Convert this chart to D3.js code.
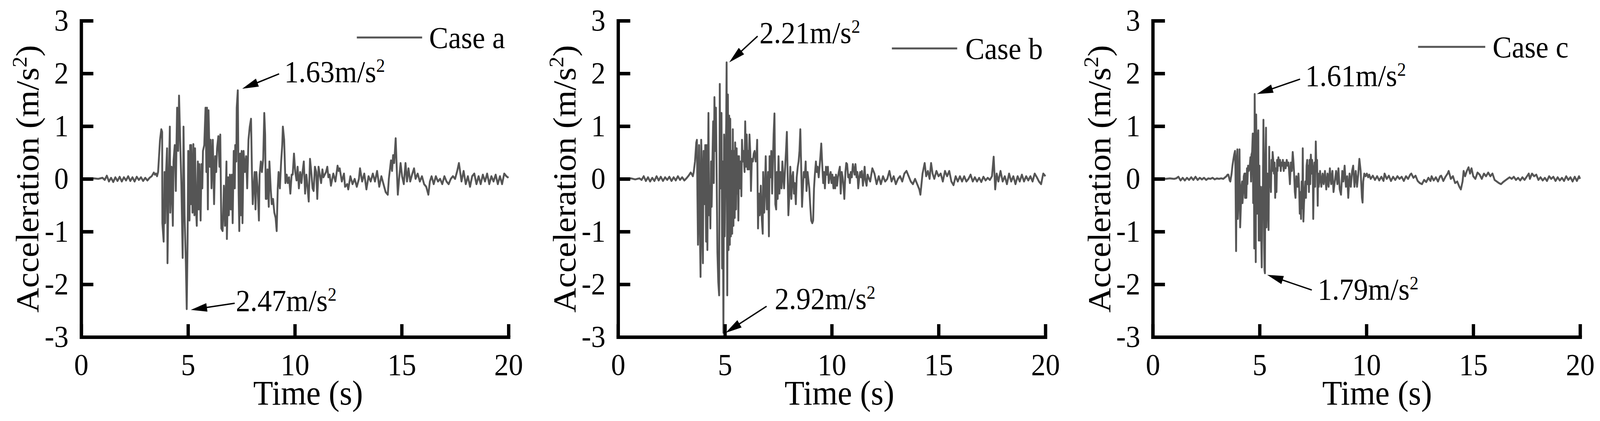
<!DOCTYPE html>
<html><head><meta charset="utf-8">
<script src="https://cdn.jsdelivr.net/npm/d3@7"></script>
<style>
html,body{margin:0;padding:0;background:#fff;overflow:hidden;width:100%;height:100%}
#chart{display:block;width:100vw;height:100vh}
svg text{font-family:"Liberation Serif","Times New Roman",serif;fill:#000}
</style>
</head><body>
<svg id="chart" viewBox="0 0 4336 1078" preserveAspectRatio="none"></svg>
<script>
// ---------------- data ----------------
const xTicks = [0, 5, 10, 15, 20];
const yTicks = [-3, -2, -1, 0, 1, 2, 3];
const caseNames = ["Case a", "Case b", "Case c"];
const peakLabels = [["1.63", "2.47"], ["2.21", "2.92"], ["1.61", "1.79"]];

const caseA = [
[0,0],[0.2,0.01],[0.4,0],[0.6,0.01],[0.8,0],[1.0,0.02],[1.1,-0.02],[1.2,0.06],[1.3,-0.05],[1.4,0.02],[1.5,-0.06],[1.6,0.03],[1.7,-0.04],[1.8,0.04],[1.9,-0.05],[2.0,0.03],[2.1,-0.03],[2.2,0.05],[2.3,-0.04],[2.4,0.03],[2.5,-0.05],[2.6,0.04],[2.7,-0.02],[2.8,0.03],[2.9,-0.04],[3.0,0.02],[3.1,-0.03],[3.2,0.02],[3.3,0.05],[3.4,0.12],[3.45,0.08],[3.5,0.1],[3.55,0.05],
[3.6,0.13],[3.69,0.74],[3.75,0.94],[3.79,0.89],[3.8,-0.84],[3.86,-1.19],[3.9,0.13],[3.93,-0.84],[3.97,0.08],[4.02,0.58],[4.04,-1.6],[4.09,-0.18],[4.15,0.99],[4.17,-0.64],[4.23,0.23],[4.29,-0.89],[4.32,0.33],[4.38,0.64],[4.43,-0.23],[4.46,0.64],[4.49,1.35],[4.54,0.53],[4.58,1.58],[4.64,0.64],[4.69,-0.13],[4.75,-1.5],[4.79,0.99],[4.84,-0.69],[4.9,-1.6],[4.94,-2.47],[4.98,-1.19],[5.01,0.53],[5.07,-0.79],[5.1,0.64],[5.13,-0.48],[5.15,0.64],[5.21,-0.64],[5.25,0.66],[5.3,-0.69],[5.33,0.58],[5.37,-0.53],[5.41,-0.89],[5.46,0.33],[5.5,-0.58],[5.53,0.28],[5.59,-0.79],[5.63,0.28],[5.67,-0.18],[5.7,0.53],[5.76,0.64],[5.82,1.35],[5.86,0.13],[5.89,1.35],[5.93,-0.58],[5.96,1.3],[6.02,0.23],[6.06,0.74],[6.1,-0.18],[6.16,0.74],[6.22,-0.48],[6.27,0.43],[6.32,0.13],[6.36,0.58],[6.42,0.81],[6.47,0.23],[6.51,0.84],[6.56,-0.94],[6.62,-0.99],[6.68,-0.13],[6.73,-0.89],[6.8,0.33],[6.82,-1.14],[6.88,0.03],[6.91,-0.69],[6.96,0.08],[7.0,-0.58],[7.05,0.08],[7.09,-0.84],[7.14,0.53],[7.19,-0.18],[7.21,0.64],[7.26,0.33],[7.28,1.35],[7.33,1.68],[7.37,-0.28],[7.4,-0.99],[7.44,0.48],[7.48,-0.69],[7.51,0.53],[7.55,-0.84],[7.6,0.53],[7.66,0.13],[7.72,0.43],[7.77,-0.18],[7.83,0.74],[7.89,0.99],[7.95,1.14],[7.99,0.18],[8.03,-0.48],[8.07,-0.18],[8.12,0.13],[8.16,-0.58],[8.2,0.13],[8.26,-0.18],[8.32,-0.79],[8.35,0.08],[8.41,0.33],[8.46,0.13],[8.52,0.38],[8.57,1.25],[8.61,0.84],[8.64,-0.38],[8.68,-0.38],[8.72,0.18],[8.78,-0.53],[8.81,0.33],[8.87,-0.18],[8.92,-0.48],[8.98,-0.38],[9.04,-0.64],[9.1,-0.74],[9.15,-0.99],[9.2,-0.18],[9.24,0.13],[9.3,-0.18],[9.36,0.33],[9.41,0.64],[9.44,0.99],[9.5,0.74],[9.56,-0.08],[9.62,0.08],[9.67,-0.08],[9.73,0.03],[9.79,-0.28],[9.85,0.08],[9.9,0.08],[9.96,0.48],[10.02,0.13],[10.08,-0.03],[10.13,0.23],[10.19,-0.18],[10.25,0.13],[10.31,-0.08],[10.36,0.13],[10.42,0.33],[10.48,-0.28],[10.54,0.08],[10.6,-0.18],[10.65,-0.43],[10.71,0.38],[10.77,0.13],[10.83,-0.18],[10.88,-0.23],[10.94,0.23],[11.0,0.13],[11.05,-0.38],[11.11,0.23],[11.17,0.08],[11.23,-0.08],[11.29,0.18],[11.34,0.03],[11.4,0.08],[11.46,0.13],[11.52,0.23],[11.57,0.03],[11.63,0.08],[11.69,-0.13],
[11.8,0.1],[11.9,-0.05],[12.0,0.25],[12.05,0.15],[12.1,0.2],[12.2,-0.05],[12.3,0.1],[12.35,-0.15],[12.45,-0.1],[12.5,-0.2],[12.6,0.05],[12.7,-0.1],[12.8,0.0],[12.9,-0.15],[13.0,0.0],[13.05,0.2],[13.15,-0.05],[13.25,0.1],[13.35,-0.2],[13.45,0.05],[13.55,-0.05],[13.65,0.1],[13.75,-0.05],[13.85,0.15],[13.95,-0.15],[14.05,0.05],[14.15,-0.1],[14.25,-0.25],[14.35,-0.3],[14.4,0.0],[14.5,0.35],[14.55,0.15],[14.6,0.45],[14.65,0.3],[14.72,0.77],[14.77,0.2],[14.82,-0.3],[14.88,0.0],[14.95,0.3],[15.02,0.05],[15.1,-0.1],[15.18,0.3],[15.25,-0.05],[15.32,0.2],[15.4,-0.05],[15.5,0.1],[15.58,0.2],[15.65,0.0],[15.75,0.1],[15.85,-0.05],[15.95,0.05],[16.05,-0.1],[16.15,-0.15],[16.25,-0.3],[16.32,-0.05],[16.4,0.05],[16.5,-0.1],[16.6,0.05],[16.7,-0.05],[16.8,0.0],[16.9,-0.1],[17.0,0.05],[17.1,-0.05],[17.2,-0.1],[17.3,0.0],[17.4,0.05],[17.5,0.0],[17.6,0.15],[17.68,0.3],[17.75,0.1],[17.8,-0.05],[17.9,0.15],[18.0,-0.1],[18.1,0.05],[18.2,-0.15],[18.3,0.05],[18.4,0.1],[18.5,-0.1],[18.6,0.05],[18.7,-0.1],[18.8,0.08],[18.9,-0.05],[19.0,0.1],[19.1,-0.1],[19.2,0.05],[19.3,-0.05],[19.4,0.08],[19.5,-0.1],[19.6,0.05],[19.7,-0.1],[19.8,0.1],[19.9,0.05],[20.0,0.02]
];

const caseB = [
[0,0],[0.2,0.01],[0.4,0],[0.6,0.01],[0.8,-0.01],[1.0,0.01],[1.1,-0.02],[1.2,0.05],[1.3,-0.04],[1.4,0.03],[1.5,-0.05],[1.6,0.02],[1.7,-0.04],[1.8,0.05],[1.9,-0.03],[2.0,0.04],[2.1,-0.04],[2.2,0.03],[2.3,-0.02],[2.4,0.04],[2.5,-0.04],[2.6,0.03],[2.7,-0.03],[2.8,0.05],[2.9,-0.02],[3.0,0.03],[3.1,-0.03],[3.2,0.01],[3.3,0.06],[3.4,0.12],[3.45,0.09],[3.5,0.05],
[3.54,0.13],[3.6,0.33],[3.66,0.69],[3.69,0.74],[3.71,-0.18],[3.74,-1.25],[3.79,0.64],[3.83,-0.99],[3.86,-1.86],[3.89,0.74],[3.92,0.23],[3.94,-1.04],[3.97,-1.6],[4.0,0.53],[4.04,-0.48],[4.08,0.64],[4.12,-1.19],[4.15,0.64],[4.18,-1.35],[4.2,-0.18],[4.23,1.25],[4.26,-0.69],[4.29,-0.13],[4.32,-0.94],[4.35,0.33],[4.38,-0.53],[4.41,0.23],[4.45,1.09],[4.48,-0.08],[4.51,1.55],[4.55,0.53],[4.58,1.35],[4.62,-0.18],[4.65,-1.4],[4.69,-1.96],[4.73,-2.21],[4.76,1.8],[4.79,-0.18],[4.84,1.25],[4.87,-1.7],[4.9,0.33],[4.93,-2.92],[4.96,0.84],[4.99,-1.09],[5.03,0.33],[5.06,1.04],[5.08,2.21],[5.11,-2.21],[5.14,1.6],[5.17,-1.35],[5.2,1.2],[5.23,-1.25],[5.25,1.14],[5.28,-1.09],[5.31,0.53],[5.34,-1.04],[5.37,0.94],[5.4,-0.89],[5.42,0.53],[5.46,-0.74],[5.48,0.69],[5.52,-0.58],[5.55,0.58],[5.57,-0.28],[5.6,0.43],[5.63,-0.79],[5.66,0.43],[5.7,-0.18],[5.74,0.33],[5.77,-0.33],[5.8,0.74],[5.84,0.33],[5.87,0.53],[5.92,0.13],[5.95,1.09],[5.99,0.23],[6.02,0.84],[6.06,0.18],[6.09,0.53],[6.12,0.18],[6.15,0.84],[6.19,0.48],[6.22,-0.23],[6.26,0.38],[6.31,0.33],[6.35,0.48],[6.39,0.53],[6.44,0.33],[6.48,0.43],[6.51,0.74],[6.55,-0.94],[6.59,-0.28],[6.63,-0.69],[6.68,-0.13],[6.73,-0.79],[6.77,-1.04],[6.79,0.13],[6.84,-0.64],[6.88,-0.08],[6.91,0.43],[6.96,-0.58],[7.0,-0.28],[7.02,0.13],[7.06,-1.09],[7.09,0.43],[7.14,0.03],[7.17,0.53],[7.21,-0.28],[7.24,0.23],[7.28,0.84],[7.32,1.24],[7.36,-0.48],[7.4,-0.58],[7.43,0.13],[7.47,-0.38],[7.51,0.43],[7.55,-0.28],[7.6,0.13],[7.65,-0.18],[7.69,0.33],[7.73,0.03],[7.77,-0.18],[7.82,0.23],[7.86,0.53],[7.9,0.89],[7.93,0.23],[7.97,-0.69],[8.02,-0.28],[8.06,0.23],[8.11,-0.38],[8.15,0.03],[8.19,0.13],[8.23,-0.28],[8.27,-0.08],[8.32,-0.48],[8.36,0.03],[8.41,0.23],[8.45,0.33],[8.49,0.53],[8.53,0.94],[8.57,0.23],[8.61,-0.53],[8.65,-0.18],[8.69,0.13],[8.74,0.03],[8.78,0.33],[8.82,-0.23],[8.87,0.13],[8.91,-0.03],[8.95,-0.18],[8.99,-0.48],[9.04,-0.79],[9.09,-0.84],[9.13,-0.79],[9.17,-0.18],[9.21,0.08],[9.26,0.33],[9.3,0.13],[9.34,0.23],[9.39,0.03],[9.43,0.23],[9.47,0.43],[9.51,0.67],[9.56,0.23],[9.6,-0.08],[9.64,0.13],[9.68,-0.18],[9.73,0.23],[9.78,0.08],[9.82,0.23],[9.86,-0.08],[9.9,0.03],[9.95,0.13],[9.99,-0.08],[10.03,0.08],[10.08,-0.18],[10.12,0.03],[10.16,-0.18],[10.2,0.08],[10.25,-0.13],[10.29,0.03],[10.33,0.13],[10.38,0.23],[10.42,-0.28],[10.47,0.13],[10.51,0.03],[10.55,-0.13],[10.59,-0.38],[10.64,0.13],[10.68,0.3],[10.72,0.28],[10.77,0.03],[10.81,0.08],[10.85,-0.08],[10.89,0.13],[10.94,0.03],[10.99,0.28],[11.03,0.18],[11.07,0.08],[11.11,0.28],[11.16,0.03],[11.2,0.13],[11.24,-0.18],[11.29,0.03],[11.33,0.13],[11.37,0.03],[11.41,0.15],[11.46,-0.13],[11.5,0.03],[11.54,0.23],[11.58,-0.03],[11.63,-0.13],[11.68,0.08],[11.72,0.03],
[11.8,-0.05],[11.9,0.2],[12.0,0.1],[12.1,-0.1],[12.2,0.05],[12.3,-0.1],[12.4,0.05],[12.5,-0.05],[12.6,0.0],[12.7,0.15],[12.8,-0.05],[12.9,0.05],[13.0,-0.1],[13.1,0.0],[13.2,0.05],[13.3,-0.05],[13.4,0.1],[13.5,0.15],[13.6,0.05],[13.7,-0.05],[13.8,-0.1],[13.9,0.0],[14.0,-0.1],[14.1,-0.2],[14.15,-0.3],[14.25,0.1],[14.35,0.3],[14.42,0.05],[14.5,0.15],[14.58,0.0],[14.65,0.3],[14.72,0.1],[14.8,0.0],[14.9,0.15],[15.0,0.05],[15.1,0.1],[15.2,-0.05],[15.3,0.15],[15.4,0.05],[15.5,0.15],[15.6,-0.05],[15.7,-0.12],[15.8,0.05],[15.9,-0.05],[16.0,0.05],[16.1,-0.05],[16.2,0.05],[16.3,-0.05],[16.4,0.0],[16.5,0.08],[16.6,-0.05],[16.7,0.03],[16.8,-0.05],[16.9,0.02],[17.0,-0.06],[17.1,0.04],[17.2,-0.03],[17.3,0.02],[17.4,-0.02],[17.5,0.05],[17.58,0.42],[17.65,-0.2],[17.72,0.1],[17.8,-0.05],[17.9,0.15],[18.0,-0.05],[18.1,0.05],[18.2,-0.1],[18.3,0.1],[18.4,-0.05],[18.5,0.05],[18.6,-0.1],[18.7,0.05],[18.8,-0.05],[18.9,0.08],[19.0,-0.05],[19.1,0.05],[19.2,-0.03],[19.3,0.05],[19.4,-0.05],[19.5,0.1],[19.6,0.03],[19.7,-0.05],[19.8,-0.1],[19.9,0.1],[20.0,0.05]
];

const caseC = [
[0,0],[0.2,0.0],[0.4,0.01],[0.6,0],[0.8,0.01],[1.0,0],[1.1,0.01],[1.2,0.04],[1.3,-0.03],[1.4,0.02],[1.5,-0.03],[1.6,0.02],[1.7,-0.02],[1.8,0.03],[1.9,-0.02],[2.0,0.04],[2.1,-0.02],[2.2,0.02],[2.3,-0.01],[2.4,0.02],[2.5,-0.02],[2.6,0.01],[2.7,0.0],[2.8,0.02],[2.9,-0.01],[3.0,0.01],[3.1,0.0],[3.2,0.01],[3.3,0.0],[3.45,0.05],[3.5,0.08],[3.54,0.08],[3.6,-0.03],[3.63,-0.05],
[3.69,0.1],[3.73,0.25],[3.77,0.36],[3.81,0.46],[3.85,0.53],[3.87,0.15],[3.9,-1.37],[3.93,0.36],[3.96,0.56],[3.98,-0.76],[4.02,-0.36],[4.06,0.56],[4.09,-0.92],[4.12,-0.56],[4.15,-0.15],[4.18,-0.05],[4.2,-0.46],[4.23,-0.25],[4.26,0.05],[4.29,0.1],[4.32,-0.36],[4.35,0.1],[4.38,-0.36],[4.41,0.2],[4.43,-0.1],[4.46,0.25],[4.49,0.15],[4.54,0.25],[4.57,0.41],[4.6,-0.05],[4.62,0.46],[4.65,0.51],[4.68,0.86],[4.7,-0.46],[4.73,0.86],[4.75,-1.32],[4.77,1.61],[4.8,-0.15],[4.82,-1.58],[4.84,1.22],[4.87,-0.15],[4.89,-0.66],[4.91,0.61],[4.94,0.92],[4.96,-1.17],[4.99,0.25],[5.01,-1.17],[5.04,-0.15],[5.07,-0.97],[5.1,-1.68],[5.13,-0.15],[5.15,-0.46],[5.18,1.12],[5.21,-1.17],[5.23,-1.73],[5.25,-1.79],[5.27,0.36],[5.3,0.97],[5.32,-0.92],[5.34,-0.46],[5.37,0.1],[5.4,-0.46],[5.42,-0.97],[5.45,0.61],[5.47,-0.15],[5.5,0.15],[5.53,-0.25],[5.56,0.36],[5.59,0.15],[5.61,0.51],[5.64,0.36],[5.67,0.1],[5.7,0.31],[5.73,-0.36],[5.76,0.2],[5.79,-0.25],[5.82,0.36],[5.84,0.15],[5.88,0.41],[5.92,0.25],[5.96,0.36],[5.99,0.15],[6.02,0.31],[6.06,0.25],[6.09,0.36],[6.13,0.15],[6.17,0.31],[6.22,0.2],[6.27,0.36],[6.31,0.25],[6.35,0.31],[6.38,0.15],[6.42,-0.1],[6.46,0.31],[6.51,0.15],[6.55,0.51],[6.58,0.36],[6.61,0.15],[6.65,-0.25],[6.68,-0.36],[6.72,0.05],[6.75,-0.05],[6.78,-0.15],[6.82,0.1],[6.85,-0.15],[6.88,-0.66],[6.91,-0.25],[6.94,-0.76],[6.97,-0.05],[7.0,-0.56],[7.02,0.58],[7.05,-0.81],[7.08,-0.46],[7.11,-0.25],[7.14,-0.05],[7.17,-0.36],[7.2,0.25],[7.23,0.36],[7.25,-0.1],[7.28,0.25],[7.31,-0.25],[7.34,0.36],[7.37,-0.1],[7.4,0.46],[7.43,0.1],[7.46,0.36],[7.49,0.15],[7.51,-0.76],[7.54,0.05],[7.57,0.31],[7.6,-0.15],[7.63,0.71],[7.66,0.15],[7.69,0.36],[7.72,-0.51],[7.74,0.1],[7.77,-0.15],[7.83,0.15],[7.89,-0.15],[7.95,0.1],[8.0,-0.1],[8.06,0.15],[8.12,-0.2],[8.18,0.1],[8.23,-0.15],[8.29,0.2],[8.35,-0.1],[8.41,0.15],[8.46,-0.25],[8.52,-0.05],[8.58,0.15],[8.64,-0.1],[8.69,0.2],[8.75,-0.2],[8.81,-0.3],[8.87,0.15],[8.92,-0.05],[8.98,0.25],[9.04,-0.15],[9.1,0.05],[9.15,-0.36],[9.21,0.1],[9.27,-0.15],[9.33,0.15],[9.38,0.25],[9.44,-0.15],[9.5,0.15],[9.56,-0.15],[9.62,0.1],[9.67,0.38],[9.73,0.15],[9.79,-0.36],[9.82,-0.45],[9.85,-0.05],[9.9,0.1],[9.96,0.05],[10.02,0.1],[10.08,0.03],[10.13,0.08],
[10.2,0.0],[10.3,0.06],[10.4,-0.02],[10.5,0.05],[10.6,-0.03],[10.7,0.04],[10.8,-0.04],[10.85,0.1],[10.95,0.0],[11.05,0.06],[11.15,-0.04],[11.25,0.04],[11.35,-0.02],[11.45,0.05],[11.55,0.0],[11.65,0.04],[11.75,-0.04],[11.85,0.05],[11.95,0.0],[12.05,0.08],[12.1,0.1],[12.2,0.02],[12.3,0.06],[12.4,-0.04],[12.5,-0.08],[12.6,-0.1],[12.7,-0.02],[12.8,-0.06],[12.9,0.02],[13.0,-0.04],[13.05,0.05],[13.15,-0.03],[13.25,0.03],[13.35,-0.05],[13.45,0.05],[13.5,0.06],[13.6,-0.04],[13.7,0.04],[13.8,0.1],[13.85,0.15],[13.95,0.0],[14.05,0.05],[14.15,-0.08],[14.25,-0.05],[14.35,-0.15],[14.42,-0.2],[14.5,-0.05],[14.55,0.15],[14.62,0.05],[14.7,0.15],[14.78,0.22],[14.85,0.1],[14.92,0.2],[15.0,0.05],[15.1,0.0],[15.2,0.12],[15.3,0.08],[15.4,0.0],[15.5,0.1],[15.6,0.05],[15.7,0.12],[15.8,0.05],[15.9,0.1],[16.0,-0.02],[16.1,-0.05],[16.2,-0.08],[16.3,-0.1],[16.4,-0.06],[16.5,-0.03],[16.6,0.0],[16.7,0.03],[16.8,0.0],[16.9,0.04],[17.0,-0.02],[17.1,0.02],[17.2,-0.03],[17.3,0.03],[17.4,-0.02],[17.5,0.04],[17.6,0.1],[17.65,0.0],[17.75,0.1],[17.85,0.05],[17.95,0.08],[18.05,-0.02],[18.15,0.03],[18.25,-0.03],[18.35,0.02],[18.45,-0.04],[18.55,0.05],[18.65,0.0],[18.75,0.04],[18.85,-0.04],[18.95,0.03],[19.05,-0.03],[19.15,0.02],[19.25,-0.04],[19.35,0.05],[19.45,-0.02],[19.55,0.03],[19.65,-0.05],[19.75,0.04],[19.85,-0.04],[19.95,0.05],[20.0,0.0]
];

const seriesList = [caseA, caseB, caseC];

// ---------------- layout (pixels in a 4336x1078 frame) ----------------
const W = 4336, H = 1078;
const panelLeft = [220, 1675, 3124];
const plotW = 1158, plotTop = 53, plotBottom = 863;
const timeLabelDx = [615, 600, 608];
const legendPos = [ {x1:967,x2:1144,y:96,tx:1163}, {x1:2417,x2:2594,y:124,tx:2616}, {x1:3843,x2:4025,y:120,tx:4045} ];
// annotation offsets relative to the extreme point: [tipDx, tipDy, tailDx, tailDy, textDx, textDy]
const annoOffsets = [
  [[12,-4,112,-42,126,-21],[11,2,130,-15,133,5]],
  [[7,0,84,-67,89,-50],[6,0,117,-68,139,-61]],
  [[6,0,123,-38,137,-21],[6,4,127,43,143,67]]
];
const lineColor = "#555555";
const serif = '"Liberation Serif","Times New Roman",serif';

const svg = d3.select("#chart");
svg.append("rect").attr("width", W).attr("height", H).attr("fill", "#fff");

seriesList.forEach((data, i) => {
  const x0 = panelLeft[i];
  const x = d3.scaleLinear().domain([0, 20]).range([x0, x0 + plotW]);
  const y = d3.scaleLinear().domain([-3, 3]).range([plotBottom, plotTop]);
  const g = svg.append("g");

  const line = d3.line().x(d => x(d[0])).y(d => y(d[1]));
  g.append("path").datum(data)
    .attr("d", line).attr("fill", "none")
    .attr("stroke", lineColor).attr("stroke-width", 5)
    .attr("stroke-linejoin", "round");

  const xAxis = d3.axisBottom(x).tickValues(xTicks).tickSizeInner(-33).tickSizeOuter(0)
    .tickPadding(42).tickFormat(d => String(d));
  const yAxis = d3.axisLeft(y).tickValues(yTicks).tickSizeInner(-33).tickSizeOuter(0)
    .tickPadding(34).tickFormat(d => String(d));
  const gx = g.append("g").attr("transform", `translate(0,${plotBottom})`).call(xAxis);
  const gy = g.append("g").attr("transform", `translate(${x0},0)`).call(yAxis);
  [gx, gy].forEach(a => {
    a.attr("font-family", null).attr("font-size", null);
    a.select(".domain").attr("stroke", "#000").attr("stroke-width", 9).attr("stroke-linecap", "square");
    a.selectAll(".tick line").attr("stroke", "#000").attr("stroke-width", 9);
    a.selectAll(".tick text").attr("fill", "#000").style("font-size", "78px").style("font-family", serif);
  });

  svg.append("text").attr("x", x0 + timeLabelDx[i]).attr("y", 1036)
    .attr("text-anchor", "middle").style("font-size", "88px").text("Time (s)");
  const yt = svg.append("text")
    .attr("transform", `translate(${x0 - 116},${(plotTop + plotBottom) / 2}) rotate(-90)`)
    .attr("text-anchor", "middle").style("font-size", "88px");
  yt.append("tspan").text("Acceleration (m/s");
  yt.append("tspan").attr("dy", -32).style("font-size", "56px").text("2");
  yt.append("tspan").attr("dy", 32).text(")");

  const lp = legendPos[i];
  svg.append("line").attr("x1", lp.x1).attr("x2", lp.x2).attr("y1", lp.y).attr("y2", lp.y)
    .attr("stroke", lineColor).attr("stroke-width", 5);
  svg.append("text").attr("x", lp.tx).attr("y", lp.y + 27).style("font-size", "78px").text(caseNames[i]);

  const maxP = data[d3.maxIndex(data, d => d[1])];
  const minP = data[d3.minIndex(data, d => d[1])];
  [maxP, minP].forEach((p, k) => {
    const o = annoOffsets[i][k];
    const px = x(p[0]), py = y(p[1]);
    const tip = [px + o[0], py + o[1]], tail = [px + o[2], py + o[3]];
    const dx = tip[0] - tail[0], dy = tip[1] - tail[1];
    const len = Math.hypot(dx, dy), ux = dx / len, uy = dy / len;
    const hl = 44, hw = 11;
    const base = [tip[0] - ux * hl, tip[1] - uy * hl];
    svg.append("line").attr("x1", tail[0]).attr("y1", tail[1]).attr("x2", base[0] + ux * 4).attr("y2", base[1] + uy * 4)
      .attr("stroke", "#000").attr("stroke-width", 3.5);
    svg.append("path")
      .attr("d", `M${tip[0]},${tip[1]}L${base[0] - uy * hw},${base[1] + ux * hw}L${base[0] + uy * hw},${base[1] - ux * hw}Z`)
      .attr("fill", "#000");
    const t = svg.append("text").attr("x", px + o[4]).attr("y", py + o[5]).style("font-size", "78px");
    t.append("tspan").text(peakLabels[i][k] + "m/s");
    t.append("tspan").attr("dy", -26).style("font-size", "48px").text("2");
  });
});
</script>
</body></html>
